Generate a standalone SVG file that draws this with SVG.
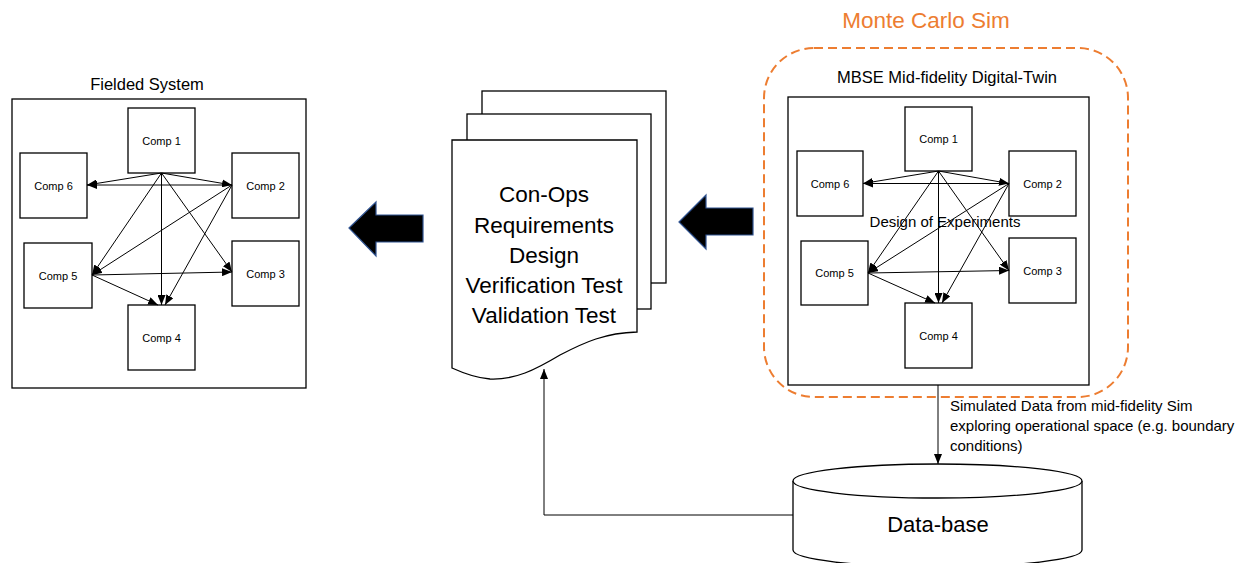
<svg xmlns="http://www.w3.org/2000/svg" width="1252" height="563" viewBox="0 0 1252 563">
  <style>
    .box { fill: #ffffff; stroke: #000000; stroke-width: 1.3; }
    .frame { fill: #ffffff; stroke: #000000; stroke-width: 1.3; }
    .comp { font-family: "Liberation Sans", Arial, sans-serif; font-size: 11px; fill: #000000; text-anchor: middle; }
    .title { font-family: "Liberation Sans", Arial, sans-serif; font-size: 16.5px; fill: #000000; text-anchor: middle; }
    .doc { font-family: "Liberation Sans", Arial, sans-serif; font-size: 22.5px; fill: #000000; text-anchor: middle; }
    .note { font-family: "Liberation Sans", Arial, sans-serif; font-size: 15px; fill: #000000; }
    .link { fill: none; stroke: #000000; stroke-width: 1; marker-end: url(#head); }
    .block { fill: #000000; stroke: #2F528F; stroke-width: 1.2; }
  </style>
  <defs>
    <marker id="head" viewBox="0 0 10 8" refX="10" refY="4" markerWidth="10" markerHeight="8" markerUnits="userSpaceOnUse" orient="auto">
      <path d="M0,0 L10,4 L0,8 Z" fill="#000000"/>
    </marker>
  </defs>

  <!-- Fielded system panel -->
  <g id="fielded-system">
    <rect class="frame" x="12" y="99" width="294" height="289"/>
    <text class="title" x="147" y="90" font-size="17">Fielded System</text>
  </g>
  <g id="fs-comp1"><rect class="box" x="128" y="108" width="67" height="65"/><text class="comp" x="161.5" y="144.5">Comp 1</text></g>
  <g id="fs-comp2"><rect class="box" x="232" y="153" width="67" height="65"/><text class="comp" x="265.5" y="189.5">Comp 2</text></g>
  <g id="fs-comp3"><rect class="box" x="232" y="241" width="67" height="65"/><text class="comp" x="265.5" y="277.5">Comp 3</text></g>
  <g id="fs-comp4"><rect class="box" x="128" y="305" width="67" height="65"/><text class="comp" x="161.5" y="341.5">Comp 4</text></g>
  <g id="fs-comp5"><rect class="box" x="24" y="243" width="68" height="65"/><text class="comp" x="58" y="279.5">Comp 5</text></g>
  <g id="fs-comp6"><rect class="box" x="20" y="153" width="67" height="65"/><text class="comp" x="53.5" y="189.5">Comp 6</text></g>

  <!-- Digital twin panel -->
  <g id="monte-carlo">
    <rect x="764" y="48" width="364" height="349" rx="50" ry="50" fill="none" stroke="#ED7D31" stroke-width="2" stroke-dasharray="9 5"/>
    <text x="926" y="28" font-family="Liberation Sans, Arial, sans-serif" font-size="22.5" fill="#ED7D31" text-anchor="middle">Monte Carlo Sim</text>
  </g>
  <g id="digital-twin">
    <rect class="frame" x="788" y="97" width="301" height="288" fill="none"/>
    <text class="title" x="947" y="83">MBSE Mid-fidelity Digital-Twin</text>
  </g>
  <g id="dt-comp1"><rect class="box" x="905" y="107" width="67" height="64"/><text class="comp" x="938.5" y="143">Comp 1</text></g>
  <g id="dt-comp2"><rect class="box" x="1009" y="151" width="67" height="65"/><text class="comp" x="1042.5" y="187.5">Comp 2</text></g>
  <g id="dt-comp3"><rect class="box" x="1009" y="238" width="67" height="65"/><text class="comp" x="1042.5" y="274.5">Comp 3</text></g>
  <g id="dt-comp4"><rect class="box" x="905" y="303" width="67" height="65"/><text class="comp" x="938.5" y="339.5">Comp 4</text></g>
  <g id="dt-comp5"><rect class="box" x="801" y="241" width="67" height="64"/><text class="comp" x="834.5" y="277">Comp 5</text></g>
  <g id="dt-comp6"><rect class="box" x="797" y="151" width="66" height="65"/><text class="comp" x="830" y="187.5">Comp 6</text></g>

  <!-- Document stack -->
  <g id="documents">
    <rect x="482" y="91" width="184" height="192" fill="#ffffff" stroke="#000000" stroke-width="1.3"/>
    <rect x="467" y="114" width="184" height="195" fill="#ffffff" stroke="#000000" stroke-width="1.3"/>
    <path d="M452,140 H637 V332 C605,333 585,342 560,355 C535,370 515,380 490,379 C475,378 463,373 452,368 Z" fill="#ffffff" stroke="#000000" stroke-width="1.3"/>
    <text class="doc" x="544" y="202">Con-Ops</text>
    <text class="doc" x="544" y="233">Requirements</text>
    <text class="doc" x="544" y="263">Design</text>
    <text class="doc" x="544" y="293">Verification Test</text>
    <text class="doc" x="544" y="323">Validation Test</text>
  </g>

  <!-- Block arrows -->
  <g id="arrow-to-fielded">
    <path class="block" d="M349,228 L376,202 L376,215 L423,215 L423,242 L376,242 L376,256 Z"/>
  </g>
  <g id="arrow-to-documents">
    <path class="block" d="M679,222 L706,195 L706,208 L753,208 L753,235 L706,235 L706,249 Z"/>
  </g>

  <!-- Database -->
  <g id="database">
    <path d="M793,481 V550 A144.5,17 0 0 0 1082,550 V481" fill="#ffffff" stroke="#000000" stroke-width="1.3"/>
    <ellipse cx="937.5" cy="481" rx="144.5" ry="17" fill="#ffffff" stroke="#000000" stroke-width="1.3"/>
    <text x="938" y="532" font-family="Liberation Sans, Arial, sans-serif" font-size="22" fill="#000000" text-anchor="middle">Data-base</text>
  </g>

  <!-- Connectors -->
  <g id="connectors">
    <g id="fs-links">
      <line class="link" x1="161.5" y1="173" x2="87" y2="185"/>
      <line class="link" x1="161.5" y1="173" x2="232" y2="185"/>
      <line class="link" x1="161.5" y1="173" x2="92" y2="275"/>
      <line class="link" x1="161.5" y1="173" x2="161.5" y2="305"/>
      <line class="link" x1="161.5" y1="173" x2="232" y2="272"/>
      <line class="link" x1="232" y1="185" x2="87" y2="185"/>
      <line class="link" x1="232" y1="185" x2="92" y2="275"/>
      <line class="link" x1="232" y1="185" x2="165" y2="305"/>
      <line class="link" x1="92" y1="275" x2="232" y2="272"/>
      <line class="link" x1="92" y1="275" x2="158" y2="305"/>
    </g>
    <g id="dt-links">
      <line class="link" x1="938.5" y1="171" x2="863" y2="183.5"/>
      <line class="link" x1="938.5" y1="171" x2="1009" y2="183.5"/>
      <line class="link" x1="938.5" y1="171" x2="868" y2="273"/>
      <line class="link" x1="938.5" y1="171" x2="938.5" y2="303"/>
      <line class="link" x1="938.5" y1="171" x2="1009" y2="270.5"/>
      <line class="link" x1="1009" y1="183.5" x2="863" y2="183.5"/>
      <line class="link" x1="1009" y1="183.5" x2="868" y2="273"/>
      <line class="link" x1="1009" y1="183.5" x2="942" y2="303"/>
      <line class="link" x1="868" y1="273" x2="1009" y2="270.5"/>
      <line class="link" x1="868" y1="273" x2="935" y2="303"/>
    </g>
    <text x="945" y="227" font-family="Liberation Sans, Arial, sans-serif" font-size="15" fill="#000000" text-anchor="middle">Design of Experiments</text>
    <g id="sim-data-link">
      <line class="link" x1="938" y1="385" x2="938" y2="464"/>
      <text class="note" x="950" y="411">Simulated Data from mid-fidelity Sim</text>
      <text class="note" x="950" y="431">exploring operational space (e.g. boundary</text>
      <text class="note" x="950" y="451">conditions)</text>
    </g>
    <path id="feedback-link" class="link" d="M793,515 H544 V369" stroke="#333333"/>
  </g>
</svg>
